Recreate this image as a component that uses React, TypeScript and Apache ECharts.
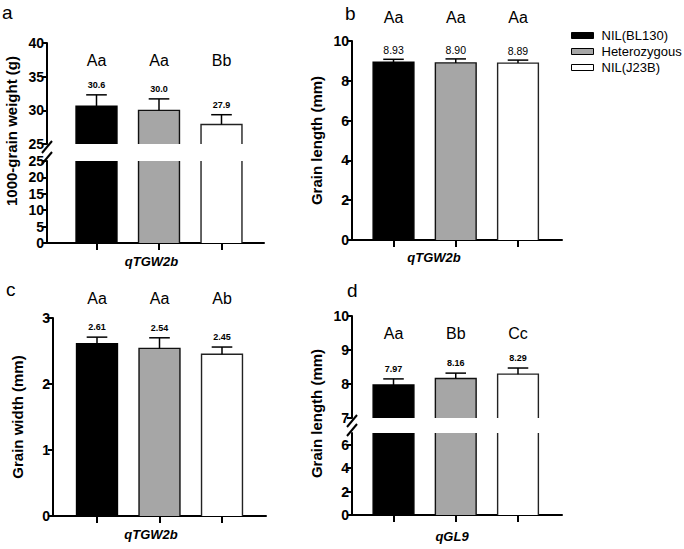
import React, { useEffect, useRef } from "react";
import * as echarts from "echarts";

// ---------- data ----------
const genotypes = ["NIL(BL130)", "Heterozygous", "NIL(J23B)"];
const categoryIndex = [0, 1, 2];

const tgwMeans = [30.6, 30.0, 27.9];
const tgwSds = [1.7, 1.7, 1.45];
const tgwLetters = ["Aa", "Aa", "Bb"];

const glMeans = [8.93, 8.9, 8.89];
const glSds = [0.15, 0.2, 0.15];
const glLetters = ["Aa", "Aa", "Aa"];

const gwMeans = [2.61, 2.54, 2.45];
const gwSds = [0.1, 0.16, 0.11];
const gwLetters = ["Aa", "Aa", "Ab"];

const gl9Means = [7.97, 8.16, 8.29];
const gl9Sds = [0.18, 0.16, 0.18];
const gl9Letters = ["Aa", "Bb", "Cc"];

const gl9LowerTicks = [0, 2, 4, 6];

// ---------- style ----------
const FONT = 'Arial, "Liberation Sans", Helvetica, sans-serif';
const fills = ["#000000", "#a6a6a6", "#ffffff"];
const outline = ["#000000", "#111111", "#222222"];
const BAR_FRAC = 0.655;
const CAP_FRAC = 0.33;

type Part = "upper" | "lower" | "full";

interface GridPart {
  part: Part;
  left: number;
  top: number;
  width: number;
  height: number;
  yMin: number;
  yMax: number;
  interval: number;
  customTicks?: number[];
}

interface Panel {
  means: number[];
  sds: number[];
  letters: string[];
  decimals: number;
  labelFont: string;
  letterOffset: number;
  labelGap: number;
  xMin: number;
  xMax: number;
  xName: string;
  xNameGap: number;
  xNameShift: number;
  yName: string;
  parts: GridPart[];
}

const LBL_BOLD = `bold 9px ${FONT}`;
const LBL_REG = `10.5px ${FONT}`;

const panels: Panel[] = [
  {
    means: tgwMeans,
    sds: tgwSds,
    letters: tgwLetters,
    decimals: 1,
    labelFont: LBL_BOLD,
    letterOffset: 17,
    labelGap: 10,
    xMin: -0.792,
    xMax: 2.68,
    xName: "qTGW2b",
    xNameGap: 12,
    xNameShift: 8,
    yName: "1000-grain weight (g)",
    parts: [
      { part: "upper", left: 47, top: 43, width: 217, height: 101, yMin: 25, yMax: 40, interval: 5 },
      { part: "lower", left: 47, top: 161, width: 217, height: 82, yMin: 0, yMax: 25, interval: 5 },
    ],
  },
  {
    means: glMeans,
    sds: glSds,
    letters: glLetters,
    decimals: 2,
    labelFont: LBL_REG,
    letterOffset: -24,
    labelGap: 9,
    xMin: -0.667,
    xMax: 2.707,
    xName: "qTGW2b",
    xNameGap: 11,
    xNameShift: 46,
    yName: "Grain length (mm)",
    parts: [{ part: "full", left: 352, top: 41, width: 210, height: 199, yMin: 0, yMax: 10, interval: 2 }],
  },
  {
    means: gwMeans,
    sds: gwSds,
    letters: gwLetters,
    decimals: 2,
    labelFont: LBL_BOLD,
    letterOffset: -20,
    labelGap: 10,
    xMin: -0.704,
    xMax: 2.704,
    xName: "qTGW2b",
    xNameGap: 12,
    xNameShift: 17,
    yName: "Grain width (mm)",
    parts: [{ part: "full", left: 53, top: 318, width: 213, height: 198, yMin: 0, yMax: 3, interval: 1 }],
  },
  {
    means: gl9Means,
    sds: gl9Sds,
    letters: gl9Letters,
    decimals: 2,
    labelFont: LBL_BOLD,
    letterOffset: 17,
    labelGap: 10,
    xMin: -0.667,
    xMax: 2.707,
    xName: "qGL9",
    xNameGap: 15,
    xNameShift: 10,
    yName: "Grain length (mm)",
    parts: [
      { part: "upper", left: 352, top: 316, width: 210, height: 102, yMin: 7, yMax: 10, interval: 1 },
      { part: "lower", left: 352, top: 433, width: 210, height: 82, yMin: 0, yMax: 7, interval: 2, customTicks: gl9LowerTicks },
    ],
  },
];

function makeRender(panel: Panel, part: Part, gi: number) {
  return (params: any, api: any) => {
    const cs = params.coordSys;
    const i = api.value(0);
    const mean = api.value(1);
    const sd = api.value(2);
    const pt = api.coord([i, mean]);
    const xc = pt[0];
    const bw = api.size([BAR_FRAC, 0])[0];
    const capW = api.size([CAP_FRAC, 0])[0];
    const xl = xc - bw / 2;
    const xr = xc + bw / 2;
    const yBot = cs.y + cs.height;
    const over = pt[1] < cs.y;
    const yTop = Math.max(pt[1], cs.y);
    const stroke = outline[gi];
    const children: any[] = [];
    children.push({
      type: "rect",
      shape: { x: xl, y: yTop, width: bw, height: yBot - yTop },
      style: { fill: fills[gi] },
    });
    if (over) {
      children.push({ type: "line", shape: { x1: xl, y1: yTop, x2: xl, y2: yBot }, style: { stroke, lineWidth: 1.4 } });
      children.push({ type: "line", shape: { x1: xr, y1: yTop, x2: xr, y2: yBot }, style: { stroke, lineWidth: 1.4 } });
    } else {
      children.push({
        type: "polyline",
        shape: { points: [[xl, yBot], [xl, yTop], [xr, yTop], [xr, yBot]] },
        style: { stroke, lineWidth: 1.4, fill: null },
      });
    }
    if (part !== "lower") {
      const yErr = api.coord([i, mean + sd])[1];
      children.push({ type: "line", shape: { x1: xc, y1: yTop, x2: xc, y2: yErr }, style: { stroke: "#000", lineWidth: 1.5 } });
      children.push({
        type: "line",
        shape: { x1: xc - capW / 2, y1: yErr, x2: xc + capW / 2, y2: yErr },
        style: { stroke: "#000", lineWidth: 1.5 },
      });
      children.push({
        type: "text",
        x: xc,
        y: yErr - panel.labelGap,
        style: {
          text: mean.toFixed(panel.decimals),
          font: panel.labelFont,
          fill: "#000",
          align: "center",
          verticalAlign: "middle",
        },
      });
      children.push({
        type: "text",
        x: xc,
        y: cs.y + panel.letterOffset,
        style: {
          text: panel.letters[gi],
          font: `16px ${FONT}`,
          fill: "#000",
          align: "center",
          verticalAlign: "middle",
        },
      });
    }
    return { type: "group", children };
  };
}

function buildOption() {
  const grid: any[] = [];
  const xAxis: any[] = [];
  const yAxis: any[] = [];
  const series: any[] = [];
  const graphic: any[] = [];
  const axisLineStyle = { color: "#000", width: 2 };

  panels.forEach((p) => {
    p.parts.forEach((g) => {
      const idx = grid.length;
      grid.push({ left: g.left, top: g.top, width: g.width, height: g.height, containLabel: false, outerBoundsMode: "none" });
      const showX = g.part !== "upper";
      xAxis.push({
        gridIndex: idx,
        type: "value",
        min: p.xMin,
        max: p.xMax,
        show: showX,
        axisLine: { show: true, onZero: false, lineStyle: axisLineStyle },
        axisTick: { show: true, customValues: categoryIndex, length: 7, lineStyle: { color: "#000", width: 2 } },
        axisLabel: { show: false },
        splitLine: { show: false },
        name: showX ? p.xName : "",
        nameLocation: "middle",
        nameGap: p.xNameGap,
        nameTextStyle: {
          fontFamily: FONT,
          fontSize: 13,
          fontWeight: "bold",
          fontStyle: "italic",
          color: "#000",
          padding: [0, p.xNameShift, 0, 0],
          verticalAlign: "top",
        },
      });
      const yax: any = {
        gridIndex: idx,
        type: "value",
        min: g.yMin,
        max: g.yMax,
        interval: g.interval,
        axisLine: { show: true, onZero: false, lineStyle: axisLineStyle },
        axisTick: { show: true, length: 5, lineStyle: { color: "#000", width: 2 } },
        axisLabel: { fontFamily: FONT, fontSize: 14, fontWeight: "bold", color: "#000", margin: 3 },
        splitLine: { show: false },
      };
      if (g.customTicks) {
        yax.axisTick.customValues = g.customTicks;
        yax.axisLabel.customValues = g.customTicks;
      }
      if (g.part === "full") {
        yax.name = p.yName;
        yax.nameLocation = "middle";
        yax.nameGap = 28;
        yax.nameTextStyle = { fontFamily: FONT, fontSize: 15, fontWeight: "bold", color: "#000" };
      }
      yAxis.push(yax);
      genotypes.forEach((name, gi) => {
        series.push({
          type: "custom",
          name,
          xAxisIndex: idx,
          yAxisIndex: idx,
          clip: false,
          itemStyle: { color: fills[gi], borderColor: "#000", borderWidth: 1 },
          data: [[categoryIndex[gi], p.means[gi], p.sds[gi]]],
          renderItem: makeRender(p, g.part, gi),
        });
      });
    });
    // axis break marks and spanning y-title for broken panels
    if (p.parts.length === 2) {
      const up = p.parts[0];
      const lo = p.parts[1];
      const ax = up.left;
      const yb = up.top + up.height;
      const yt = lo.top;
      [yb + 3, yt - 3].forEach((cy) => {
        graphic.push({
          type: "line",
          shape: { x1: ax - 5, y1: cy + 6, x2: ax + 5, y2: cy - 6 },
          style: { stroke: "#000", lineWidth: 2 },
        });
      });
      const mid = (up.top + lo.top + lo.height) / 2;
      graphic.push({
        type: "text",
        x: ax - 36,
        y: mid - (ax < 100 ? 12 : 2),
        rotation: Math.PI / 2,
        style: {
          text: p.yName,
          font: `bold 15px ${FONT}`,
          fill: "#000",
          align: "center",
          verticalAlign: "middle",
        },
      });
    }
  });

  // panel letters
  const panelLetters = [
    { t: "a", x: 2, y: 12 },
    { t: "b", x: 345, y: 13 },
    { t: "c", x: 6, y: 289 },
    { t: "d", x: 347, y: 290 },
  ];
  panelLetters.forEach((l) => {
    graphic.push({
      type: "text",
      x: l.x,
      y: l.y,
      style: { text: l.t, font: `19px ${FONT}`, fill: "#000", align: "left", verticalAlign: "middle" },
    });
  });

  return {
    animation: false,
    backgroundColor: "#ffffff",
    grid,
    xAxis,
    yAxis,
    series,
    graphic,
    legend: {
      data: genotypes,
      orient: "vertical",
      left: 566,
      top: 24,
      icon: "rect",
      itemWidth: 22,
      itemHeight: 6,
      itemGap: 3,
      selectedMode: false,
      textStyle: { fontFamily: FONT, fontSize: 13, color: "#000", padding: [0, 0, 0, 3] },
      itemStyle: { borderColor: "#000", borderWidth: 1 },
    },
  };
}

export default function App() {
  const ref = useRef<HTMLDivElement>(null);
  useEffect(() => {
    document.body.style.margin = "0";
    const chart = echarts.init(ref.current as HTMLDivElement, null, { renderer: "svg" });
    chart.setOption(buildOption() as any);
    return () => chart.dispose();
  }, []);
  return <div ref={ref} style={{ width: 684, height: 549 }} />;
}
